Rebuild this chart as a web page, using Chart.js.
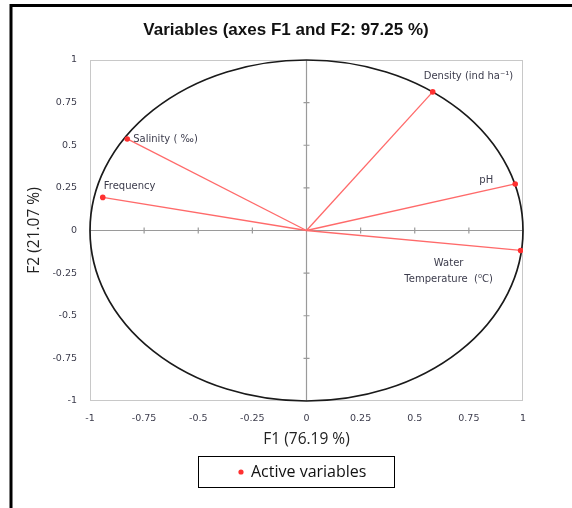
<!DOCTYPE html>
<html>
<head>
<meta charset="utf-8">
<script src="https://cdn.jsdelivr.net/npm/chart.js@4"></script>
<style>
  html, body { margin: 0; padding: 0; background: #fff; }
  #wrap { width: 572px; height: 508px; }
</style>
</head>
<body>
<div id="wrap"><canvas id="c" width="572" height="508"></canvas></div>
<script>
// Correlation circle: loadings of each variable on F1 and F2
const variableNames = ['Density (ind ha\u207B\u00B9)', 'pH', 'Water\nTemperature  (\u2070C)', 'Salinity ( \u2030)', 'Frequency'];
const f1Loadings = [0.583, 0.964, 0.989, -0.828, -0.941];
const f2Loadings = [0.813, 0.273, -0.117, 0.537, 0.194];

const tickValues = [-1, -0.75, -0.5, -0.25, 0, 0.25, 0.5, 0.75, 1];
const tickLabels = ['-1', '-0.75', '-0.5', '-0.25', '0', '0.25', '0.5', '0.75', '1'];

const chartTitle = 'Variables (axes F1 and F2: 97.25 %)';
const xTitle = 'F1 (76.19 %)';
const yTitle = 'F2 (21.07 %)';
const legendLabel = 'Active variables';

// label placement relative to each vector tip
const labelPlacement = [
  { dx: -9, dy: -15, align: 'left' },
  { dx: -22, dy: -4, align: 'right' },
  { dx: -72, dy: 13, align: 'center', lineGap: 16 },
  { dx: 6, dy: 0, align: 'left' },
  { dx: 1, dy: -11, align: 'left' }
];

const LINE_RED = '#ff6a6a';
const POINT_RED = '#ff3030';
const TEXT = '#3c3c4c';
const SMALL_FONT = '"DejaVu Sans", sans-serif';

const datasets = variableNames.map((name, i) => ({
  label: name,
  data: [{ x: 0, y: 0 }, { x: f1Loadings[i], y: f2Loadings[i] }],
  showLine: true,
  borderColor: LINE_RED,
  borderWidth: 1.3,
  pointRadius: [0, 2.8],
  pointBackgroundColor: POINT_RED,
  pointBorderWidth: 0,
  pointHoverRadius: [0, 2.8]
}));

const decorations = {
  id: 'decorations',
  beforeDatasetsDraw(chart) {
    const { ctx, chartArea: a, scales: { x, y } } = chart;
    const cx = x.getPixelForValue(0), cy = y.getPixelForValue(0);
    ctx.save();
    // outer frame (top and left)
    ctx.strokeStyle = '#000';
    ctx.lineWidth = 3;
    ctx.beginPath();
    ctx.moveTo(11, 508);
    ctx.lineTo(11, 5.5);
    ctx.lineTo(572, 5.5);
    ctx.stroke();

    // plot frame
    ctx.strokeStyle = '#c8c8c8';
    ctx.lineWidth = 1;
    ctx.strokeRect(a.left + 0.5, a.top + 0.5, a.right - a.left - 1, a.bottom - a.top - 1);

    // zero axes
    ctx.strokeStyle = '#9a9a9a';
    ctx.lineWidth = 1.2;
    ctx.beginPath();
    ctx.moveTo(a.left, cy); ctx.lineTo(a.right, cy);
    ctx.moveTo(cx, a.top); ctx.lineTo(cx, a.bottom);
    // cross ticks on zero axes
    tickValues.forEach(v => {
      if (v === 0 || Math.abs(v) === 1) return;
      const px = x.getPixelForValue(v), py = y.getPixelForValue(v);
      ctx.moveTo(px, cy - 3); ctx.lineTo(px, cy + 3);
      ctx.moveTo(cx - 3, py); ctx.lineTo(cx + 3, py);
    });
    ctx.stroke();

    // unit circle
    ctx.strokeStyle = '#1a1a1a';
    ctx.lineWidth = 1.7;
    ctx.beginPath();
    ctx.ellipse(cx, cy, x.getPixelForValue(1) - cx, cy - y.getPixelForValue(1), 0, 0, Math.PI * 2);
    ctx.stroke();
    ctx.restore();
  },
  afterDraw(chart) {
    const { ctx, chartArea: a, scales: { x, y } } = chart;
    ctx.save();
    // title
    ctx.fillStyle = '#111';
    ctx.font = 'bold 17px "Liberation Sans", Arial, sans-serif';
    ctx.textAlign = 'center';
    ctx.textBaseline = 'middle';
    ctx.fillText(chartTitle, 286, 30);

    // axis titles
    ctx.fillStyle = '#222';
    ctx.font = '15.5px "Open Sans", sans-serif';
    ctx.fillText(xTitle, (a.left + a.right) / 2, 440);
    ctx.save();
    ctx.translate(35, (a.top + a.bottom) / 2);
    ctx.rotate(-Math.PI / 2);
    ctx.fillText(yTitle, 0, 0);
    ctx.restore();

    // variable labels
    ctx.fillStyle = TEXT;
    ctx.font = '10px ' + SMALL_FONT;
    ctx.textBaseline = 'middle';
    variableNames.forEach((name, i) => {
      const p = labelPlacement[i];
      const px = x.getPixelForValue(f1Loadings[i]);
      const py = y.getPixelForValue(f2Loadings[i]);
      ctx.textAlign = p.align;
      name.split('\n').forEach((line, k) => {
        ctx.fillText(line, px + p.dx, py + p.dy + k * (p.lineGap || 0));
      });
    });

    // legend box
    ctx.strokeStyle = '#000';
    ctx.lineWidth = 1;
    ctx.strokeRect(198.5, 456.5, 196, 31);
    ctx.fillStyle = POINT_RED;
    ctx.beginPath();
    ctx.arc(241, 472, 2.6, 0, Math.PI * 2);
    ctx.fill();
    ctx.fillStyle = '#111';
    ctx.font = '16px "Open Sans", sans-serif';
    ctx.textAlign = 'left';
    ctx.fillText(legendLabel, 251, 472);
    ctx.restore();
  }
};

new Chart(document.getElementById('c'), {
  type: 'scatter',
  data: { datasets },
  options: {
    responsive: false,
    animation: false,
    events: [],
    layout: { padding: { top: 60, right: 49, left: 0, bottom: 0 } },
    plugins: { legend: { display: false }, title: { display: false }, tooltip: { enabled: false } },
    scales: {
      x: {
        type: 'linear', min: -1, max: 1,
        afterBuildTicks: s => { s.ticks = tickValues.map(v => ({ value: v })); },
        afterFit: s => { s.height = 107; },
        grid: { display: false, drawTicks: false },
        border: { display: false },
        ticks: {
          padding: 12,
          color: TEXT,
          font: { family: SMALL_FONT, size: 9.5 },
          callback: (v, i) => tickLabels[i],
          maxRotation: 0
        }
      },
      y: {
        type: 'linear', min: -1, max: 1,
        afterBuildTicks: s => { s.ticks = tickValues.map(v => ({ value: v })); },
        afterFit: s => { s.width = 90; },
        grid: { display: false, drawTicks: false },
        border: { display: false },
        ticks: {
          padding: 13,
          color: TEXT,
          font: { family: SMALL_FONT, size: 9.5 },
          callback: (v, i) => tickLabels[i]
        }
      }
    }
  },
  plugins: [decorations]
});
</script>
</body>
</html>
